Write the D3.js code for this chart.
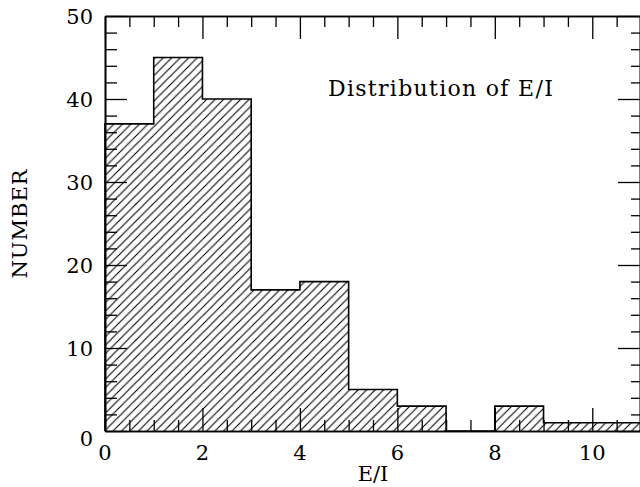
<!DOCTYPE html>
<html>
<head>
<meta charset="utf-8">
<script src="https://cdn.jsdelivr.net/npm/d3@7"></script>
<style>
  body { margin: 0; background: #fff; }
  text { font-family: "DejaVu Serif", serif; fill: #000; }
</style>
</head>
<body>
<script>
// histogram data
const binStarts = [0, 1, 2, 3, 4, 5, 6, 7, 8, 9, 10];
const binWidth = 1;
const counts = [37, 45, 40, 17, 18, 5, 3, 0, 3, 1, 1];
const xLabelTicks = [0, 2, 4, 6, 8, 10];
const yLabelTicks = [0, 10, 20, 30, 40, 50];

const w = 640, h = 487;
const margin = {top: 16, right: -1, bottom: 56, left: 105};

const svg = d3.select("body")
  .append("svg")
  .attr("width", w)
  .attr("height", h);

const xScale = d3.scaleLinear()
  .domain([0, 11])
  .range([margin.left, w - margin.right]);
const yScale = d3.scaleLinear()
  .domain([0, 50])
  .range([h - margin.bottom, margin.top]);

// hatch pattern "/"
const p = 8.5;
svg.append("defs").append("pattern")
  .attr("id", "hatch")
  .attr("patternUnits", "userSpaceOnUse")
  .attr("width", p)
  .attr("height", p)
  .append("path")
  .attr("d", `M-1,1 l2,-2 M0,${p} l${p},${-p} M${p - 1},${p + 1} l2,-2`)
  .attr("stroke", "#000")
  .attr("stroke-width", 1.1);

// bars (fill only)
svg.selectAll("rect.bar")
  .data(binStarts)
  .enter()
  .append("rect")
  .attr("class", "bar")
  .attr("x", d => xScale(d))
  .attr("y", (d, i) => yScale(counts[i]))
  .attr("width", d => xScale(d + binWidth) - xScale(d))
  .attr("height", (d, i) => yScale(0) - yScale(counts[i]))
  .attr("fill", "url(#hatch)");

// step outline
const pts = [[binStarts[0], 0]];
binStarts.forEach((d, i) => {
  pts.push([d, counts[i]]);
  pts.push([d + binWidth, counts[i]]);
});
pts.push([binStarts[binStarts.length - 1] + binWidth, 0]);
svg.append("path")
  .attr("d", d3.line().x(d => xScale(d[0])).y(d => yScale(d[1]))(pts))
  .attr("fill", "none")
  .attr("stroke", "#000")
  .attr("stroke-width", 1.6);

// ticks
const xMinor = d3.range(0, 11.01, 0.5).filter(v => v % 2 !== 0);
const yMinor = d3.range(0, 50.01, 2).filter(v => v % 10 !== 0);
const major = 23, minor = 11;

function axisGroup(axis, tx, ty) {
  const g = svg.append("g")
    .attr("transform", `translate(${tx},${ty})`)
    .call(axis);
  g.selectAll("text").remove();
  g.selectAll("line").attr("stroke", "#000").attr("stroke-width", 1.3);
  g.select(".domain").attr("stroke", "#000").attr("stroke-width", 1.6);
  return g;
}

const x0 = xScale(0), x1 = xScale(11), y0 = yScale(0), y1 = yScale(50);
// bottom
axisGroup(d3.axisBottom(xScale).tickValues(xLabelTicks).tickSize(-major).tickSizeOuter(0), 0, y0);
axisGroup(d3.axisBottom(xScale).tickValues(xMinor).tickSize(-minor).tickSizeOuter(0), 0, y0);
// top
axisGroup(d3.axisTop(xScale).tickValues(xLabelTicks).tickSize(-major).tickSizeOuter(0), 0, y1);
axisGroup(d3.axisTop(xScale).tickValues(xMinor).tickSize(-minor).tickSizeOuter(0), 0, y1);
// left
axisGroup(d3.axisLeft(yScale).tickValues(yLabelTicks).tickSize(-major + 1).tickSizeOuter(0), x0, 0);
axisGroup(d3.axisLeft(yScale).tickValues(yMinor).tickSize(-minor - 1).tickSizeOuter(0), x0, 0);
// right
axisGroup(d3.axisRight(yScale).tickValues(yLabelTicks).tickSize(-major + 1).tickSizeOuter(0), x1 - 1, 0);
axisGroup(d3.axisRight(yScale).tickValues(yMinor).tickSize(-minor + 2).tickSizeOuter(0), x1 - 1, 0);

// tick labels
svg.selectAll("text.xlab")
  .data(xLabelTicks)
  .enter()
  .append("text")
  .attr("class", "xlab")
  .attr("x", d => xScale(d))
  .attr("y", y0 + 29)
  .attr("text-anchor", "middle")
  .style("font-size", "21px")
  .text(d => d);

svg.selectAll("text.ylab")
  .data(yLabelTicks)
  .enter()
  .append("text")
  .attr("class", "ylab")
  .attr("x", x0 - 12)
  .attr("y", d => yScale(d) + (d === 0 ? 7 : 0))
  .attr("dy", "0.36em")
  .attr("text-anchor", "end")
  .style("font-size", "21px")
  .text(d => d);

// axis titles
svg.append("text")
  .attr("x", (x0 + x1) / 2)
  .attr("y", 481)
  .attr("text-anchor", "middle")
  .style("font-size", "21px")
  .text("E/I");

svg.append("text")
  .attr("transform", `translate(27,${(y0 + y1) / 2}) rotate(-90)`)
  .attr("text-anchor", "middle")
  .style("font-size", "21px")
  .style("letter-spacing", "1px")
  .text("NUMBER");

// chart title
svg.append("text")
  .attr("x", 328)
  .attr("y", 96)
  .style("font-size", "22px")
  .style("letter-spacing", "1.3px")
  .text("Distribution of E/I");
</script>
</body>
</html>
